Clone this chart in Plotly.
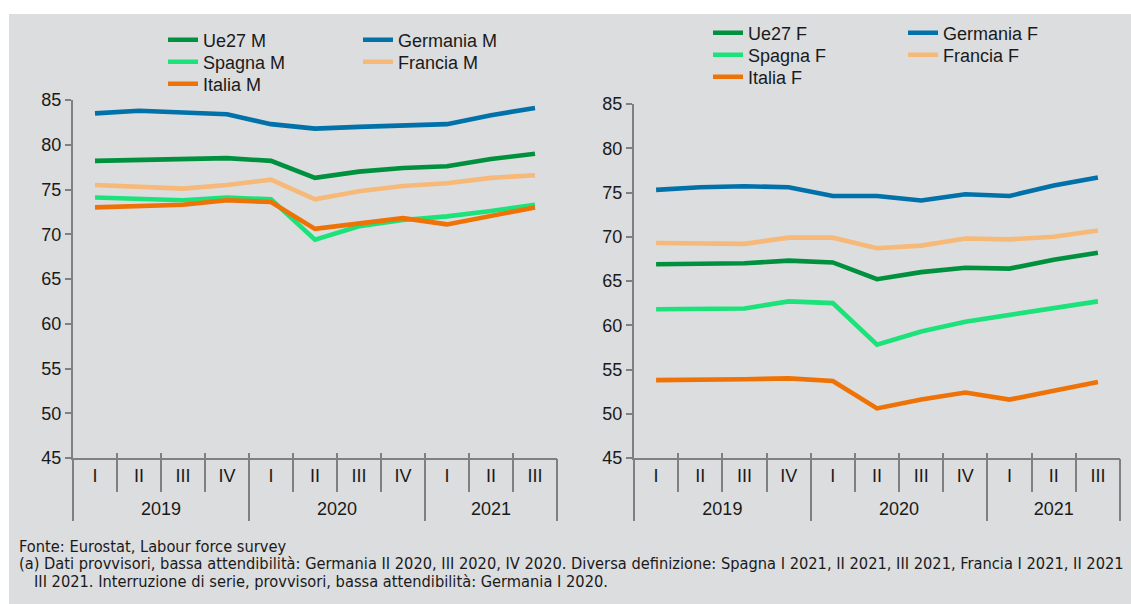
import plotly.graph_objects as go

years = ["2019"] * 4 + ["2020"] * 4 + ["2021"] * 3
quarters = ["I", "II", "III", "IV", "I", "II", "III", "IV", "I", "II", "III"]

# Maschi
ue27_m = [78.2, 78.3, 78.3, 78.5, 78.2, 76.3, 77.0, 77.4, 77.6, 78.4, 79.0]
germania_m = [83.5, 83.8, 83.6, 83.4, 82.3, 81.8, 82.0, 82.1, 82.3, 83.3, 84.1]
spagna_m = [74.1, 74.0, 73.8, 74.1, 73.9, 69.4, 70.9, 71.6, 72.0, 72.6, 73.3]
francia_m = [75.5, 75.3, 75.1, 75.5, 76.1, 73.9, 74.8, 75.4, 75.7, 76.3, 76.6]
italia_m = [73.0, 73.1, 73.3, 73.8, 73.6, 70.6, 71.2, 71.8, 71.1, 72.0, 73.0]

# Femmine
ue27_f = [66.9, 67.0, 67.0, 67.3, 67.1, 65.2, 66.0, 66.5, 66.4, 67.4, 68.2]
germania_f = [75.3, 75.6, 75.7, 75.6, 74.6, 74.6, 74.1, 74.8, 74.6, 75.8, 76.7]
spagna_f = [61.8, 61.9, 61.9, 62.7, 62.5, 57.8, 59.3, 60.4, 61.2, 62.0, 62.7]
francia_f = [69.3, 69.3, 69.2, 69.9, 69.9, 68.7, 69.0, 69.8, 69.7, 70.0, 70.7]
italia_f = [53.8, 53.8, 53.9, 54.0, 53.7, 50.6, 51.6, 52.4, 51.6, 52.6, 53.6]

footnotes = [
    "Fonte: Eurostat, Labour force survey",
    "(a) Dati provvisori, bassa attendibilità: Germania II 2020, III 2020, IV 2020. "
    "Diversa definizione: Spagna I 2021, II 2021, III 2021, Francia I 2021, II 2021",
    "III 2021. Interruzione di serie, provvisori, bassa attendibilità: Germania I 2020.",
]

colors = {
    "Ue27": "#00913F",
    "Germania": "#0071A9",
    "Spagna": "#1CE27A",
    "Francia": "#F6B978",
    "Italia": "#EE7205",
}

FONT = "Liberation Sans, Arial, sans-serif"
NARROW = "Liberation Sans Narrow, DejaVu Sans Condensed, Liberation Sans, sans-serif"
AXIS_COL = "#808080"
BG = "#DCDDDF"
TXT = "#1a1a1a"
FS = 18

# unique category per quarter
cats = [f"{q} {y}" for q, y in zip(quarters, years)]
n = len(cats)
xr = [-0.5, n - 0.5]

# year groups: centre positions and boundaries (category index space)
year_names, year_start = [], []
for i, yv in enumerate(years):
    if not year_names or year_names[-1] != yv:
        year_names.append(yv)
        year_start.append(i)
year_end = year_start[1:] + [n]
year_centres = [(s + e - 1) / 2 for s, e in zip(year_start, year_end)]
year_bounds = [s - 0.5 for s in year_start] + [n - 0.5]
quarter_bounds = [i + 0.5 for i in range(n - 1)]

fig = go.Figure()

left_series = [
    ("Ue27 M", ue27_m, "Ue27", "legend"),
    ("Germania M", germania_m, "Germania", "legend"),
    ("Spagna M", spagna_m, "Spagna", "legend2"),
    ("Francia M", francia_m, "Francia", "legend2"),
    ("Italia M", italia_m, "Italia", "legend3"),
]
right_series = [
    ("Ue27 F", ue27_f, "Ue27", "legend4"),
    ("Germania F", germania_f, "Germania", "legend4"),
    ("Spagna F", spagna_f, "Spagna", "legend5"),
    ("Francia F", francia_f, "Francia", "legend5"),
    ("Italia F", italia_f, "Italia", "legend6"),
]

for name, vals, key, leg in left_series:
    fig.add_trace(go.Scatter(x=cats, y=vals, name=name, mode="lines",
                             line=dict(color=colors[key], width=4.6),
                             xaxis="x", yaxis="y", legend=leg))
for name, vals, key, leg in right_series:
    fig.add_trace(go.Scatter(x=cats, y=vals, name=name, mode="lines",
                             line=dict(color=colors[key], width=4.6),
                             xaxis="x2", yaxis="y2", legend=leg))

# empty helper traces so the overlay axes (year labels / dividers / small ticks) get drawn
for xa, ya in [("x3", "y"), ("x4", "y"), ("x7", "y"), ("x5", "y2"), ("x6", "y2"), ("x8", "y2")]:
    fig.add_trace(go.Scatter(x=[], y=[], mode="lines", xaxis=xa, yaxis=ya,
                             showlegend=False, hoverinfo="skip"))

W, H = 1131, 604

quarter_axis = dict(
    type="category", range=xr,
    tickvals=cats, ticktext=quarters,
    showline=True, linecolor=AXIS_COL, linewidth=2,
    ticks="outside", tickson="boundaries", ticklen=32, tickcolor=AXIS_COL, tickwidth=2,
    showgrid=False, zeroline=False,
    tickfont=dict(family=FONT, size=FS, color=TXT),
)
year_label_axis = dict(
    type="linear", range=xr, autorange=False,
    tickmode="array", tickvals=year_centres, ticktext=year_names,
    showline=False, ticks="outside", ticklen=34, tickcolor="rgba(0,0,0,0)",
    showgrid=False, zeroline=False,
    tickfont=dict(family=FONT, size=FS, color=TXT),
)
year_div_axis = dict(
    type="linear", range=xr, autorange=False,
    tickmode="array", tickvals=year_bounds,
    showticklabels=False, showline=False,
    ticks="outside", ticklen=62, tickcolor=AXIS_COL, tickwidth=2,
    showgrid=False, zeroline=False,
)
inner_tick_axis = dict(
    type="linear", range=xr, autorange=False,
    tickmode="array", tickvals=quarter_bounds,
    showticklabels=False, showline=False,
    ticks="inside", ticklen=5, tickcolor=AXIS_COL, tickwidth=2,
    showgrid=False, zeroline=False,
)
yaxis_common = dict(
    range=[45, 85], dtick=5, tick0=45,
    showline=True, linecolor=AXIS_COL, linewidth=2,
    ticks="outside", ticklen=6, tickcolor=AXIS_COL, tickwidth=2,
    showgrid=False, zeroline=False,
    tickfont=dict(family=FONT, size=FS, color=TXT),
)

legend_common = dict(
    orientation="h", bgcolor="rgba(0,0,0,0)", borderwidth=0,
    font=dict(family=FONT, size=FS, color=TXT),
    xanchor="left", yanchor="middle", tracegroupgap=0,
    entrywidth=150, entrywidthmode="pixels",
    itemclick=False,
)

annotations = []
fn_pos = [(17, 546), (17, 563), (32, 581)]
for txt, (fx, fy) in zip(footnotes, fn_pos):
    annotations.append(dict(
        xref="paper", yref="paper", x=fx / W, y=1 - fy / H, xanchor="left", yanchor="middle",
        showarrow=False, align="left", text=txt,
        font=dict(family=NARROW, size=16.3, color=TXT)))

fig.update_layout(
    width=W, height=H,
    margin=dict(l=0, r=0, t=0, b=0, autoexpand=False),
    paper_bgcolor="white",
    plot_bgcolor=BG,
    showlegend=True,
    xaxis=dict(domain=[73 / W, 557 / W], anchor="y", **quarter_axis),
    yaxis=dict(domain=[1 - 458 / H, 1 - 100 / H], anchor="x", **yaxis_common),
    xaxis2=dict(domain=[634 / W, 1120 / W], anchor="y2", **quarter_axis),
    yaxis2=dict(domain=[1 - 458 / H, 1 - 104 / H], anchor="x2", **yaxis_common),
    xaxis3=dict(overlaying="x", anchor="y", **year_label_axis),
    xaxis4=dict(overlaying="x", anchor="y", **year_div_axis),
    xaxis7=dict(overlaying="x", anchor="y", **inner_tick_axis),
    xaxis5=dict(overlaying="x2", anchor="y2", **year_label_axis),
    xaxis6=dict(overlaying="x2", anchor="y2", **year_div_axis),
    xaxis8=dict(overlaying="x2", anchor="y2", **inner_tick_axis),
    legend=dict(x=163 / W, y=1 - 40 / H, **legend_common),
    legend2=dict(x=163 / W, y=1 - 62 / H, **legend_common),
    legend3=dict(x=163 / W, y=1 - 84 / H, **legend_common),
    legend4=dict(x=708 / W, y=1 - 33 / H, **legend_common),
    legend5=dict(x=708 / W, y=1 - 55 / H, **legend_common),
    legend6=dict(x=708 / W, y=1 - 77 / H, **legend_common),
    shapes=[dict(type="rect", xref="paper", yref="paper", x0=9 / W, x1=1, y0=0, y1=1 - 14 / H,
                 fillcolor=BG, line=dict(width=0), layer="below")],
    annotations=annotations,
)

fig.write_html("out.html", post_script="document.body.style.margin='0';",
               config={"displayModeBar": False})
